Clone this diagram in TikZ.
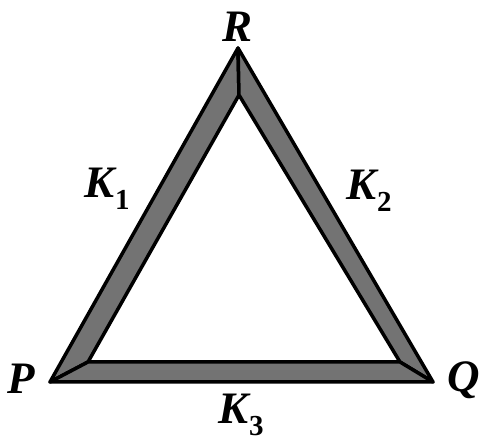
\documentclass[tikz,border=0pt]{standalone}
\usepackage{fontspec}
\setmainfont{Liberation Serif}
\newcommand{\subdig}[1]{\kern1pt\raisebox{-12pt}{\fontsize{29}{30}\selectfont\upshape\bfseries #1}}
\begin{document}
\begin{tikzpicture}[x=1pt,y=1pt,
  bar/.style={fill=black!55,draw=black,line width=3.5pt,line join=round},
  lbl/.style={font=\fontsize{45}{46}\selectfont\bfseries\itshape,inner sep=0pt,anchor=base west}]
\useasboundingbox (0,0) rectangle (480,443);
\coordinate (Po) at (50,61);
\coordinate (Qo) at (433,61);
\coordinate (Ro) at (238,395);
\coordinate (Pi) at (88,81);
\coordinate (Qi) at (400,81);
\coordinate (Ri) at (239,348);
\draw[bar] (Po) -- (Ro) -- (Ri) -- (Pi) -- cycle;
\draw[bar] (Ro) -- (Qo) -- (Qi) -- (Ri) -- cycle;
\draw[bar] (Po) -- (Qo) -- (Qi) -- (Pi) -- cycle;
\node[lbl,anchor=base] (R) at (238,401) {R};
\node[lbl] (P) at (7,49) {P};
\node[lbl] (Q) at (447,51) {Q};
\node[lbl] (K1) at (84,245) {K\subdig{1}};
\node[lbl] (K2) at (346,243) {K\subdig{2}};
\node[lbl] (K3) at (218,19) {K\subdig{3}};
\end{tikzpicture}
\end{document}
